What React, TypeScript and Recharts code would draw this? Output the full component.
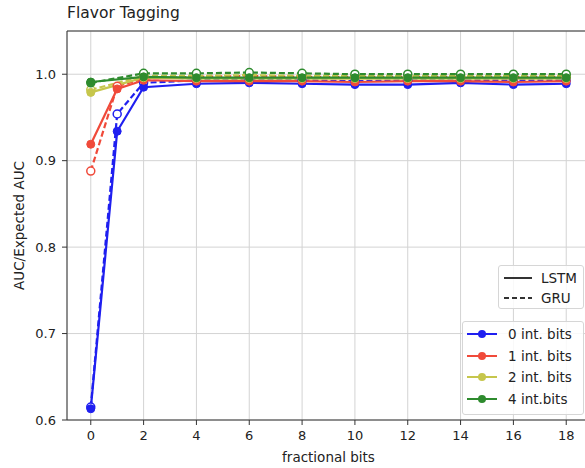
import React from 'react';
import { LineChart, Line, XAxis, YAxis, CartesianGrid, ReferenceLine } from 'recharts';

const fracBits = [0, 1, 2, 4, 6, 8, 10, 12, 14, 16, 18];
const xTicks = [0, 2, 4, 6, 8, 10, 12, 14, 16, 18];
const yTicks = [0.6, 0.7, 0.8, 0.9, 1.0];

// LSTM (solid, filled markers)
const lstm0 = [0.613, 0.934, 0.985, 0.989, 0.990, 0.989, 0.988, 0.988, 0.990, 0.988, 0.989];
const lstm1 = [0.919, 0.983, 0.993, 0.992, 0.992, 0.992, 0.991, 0.992, 0.992, 0.991, 0.992];
const lstm2 = [0.979, null, 0.996, 0.995, 0.995, 0.995, 0.995, 0.995, 0.995, 0.995, 0.995];
const lstm4 = [0.991, null, 0.997, 0.996, 0.996, 0.996, 0.996, 0.996, 0.996, 0.996, 0.996];

// GRU (dashed, hollow markers)
const gru0 = [0.615, 0.954, 0.990, 0.993, 0.994, 0.993, 0.992, 0.993, 0.993, 0.993, 0.993];
const gru1 = [0.888, 0.986, 0.995, 0.997, 0.998, 0.997, 0.997, 0.997, 0.997, 0.997, 0.997];
const gru2 = [0.982, null, 0.998, 0.998, 0.999, 0.998, 0.998, 0.998, 0.998, 0.998, 0.998];
const gru4 = [0.990, null, 1.001, 1.001, 1.002, 1.001, 1.0, 1.0, 1.0, 1.0, 1.0];

const seriesNames = ['0 int. bits', '1 int. bits', '2 int. bits', '4 int.bits'];
const colors = ['#1f1ff0', '#f04a3a', '#c6c64c', '#2e8b2e'];

const data = fracBits.map((x, i) => ({
  x,
  lstm0: lstm0[i], lstm1: lstm1[i], lstm2: lstm2[i], lstm4: lstm4[i],
  gru0: gru0[i], gru1: gru1[i], gru2: gru2[i], gru4: gru4[i],
}));

const lstmKeys = ['lstm0', 'lstm1', 'lstm2', 'lstm4'];
const gruKeys = ['gru0', 'gru1', 'gru2', 'gru4'];

const FONT = '"DejaVu Sans", sans-serif';
const TEXT = '#222';

const YLabel = (props: any) => {
  const { viewBox } = props;
  const cx = 19;
  const cy = viewBox.y + viewBox.height / 2;
  return (
    <text x={cx} y={cy} transform={`rotate(-90 ${cx} ${cy})`} textAnchor="middle"
      dominantBaseline="central" fontSize={13.5} fill={TEXT} fontFamily={FONT}>
      AUC/Expected AUC
    </text>
  );
};

const legendBox: React.CSSProperties = {
  position: 'absolute',
  background: 'rgba(255,255,255,0.85)',
  border: '1px solid #d6d6d6',
  borderRadius: 3,
  fontFamily: FONT,
  fontSize: 13.5,
  color: TEXT,
};

export default function App() {
  return (
    <div style={{ position: 'absolute', left: 0, top: 0, width: 585, height: 468, overflow: 'hidden', background: '#fff' }}>
      <div style={{ position: 'absolute', left: 67, top: 4, fontFamily: FONT, fontSize: 15.5, color: TEXT }}>
        Flavor Tagging
      </div>
      <LineChart width={600} height={468} data={data} margin={{ top: 31, right: 10, bottom: 0, left: 17 }}>
        <CartesianGrid stroke="#d3d3d3" strokeWidth={1} />
        <XAxis
          dataKey="x" type="number" domain={[-0.9, 18.9]} ticks={xTicks} allowDataOverflow
          height={48} tickSize={5} tickMargin={6}
          stroke="#333" tick={{ fill: TEXT, fontSize: 13, fontFamily: FONT }}
          label={{ value: 'fractional bits', position: 'insideBottom', offset: 6, fill: TEXT, fontSize: 13.5, fontFamily: FONT }}
        />
        <YAxis
          type="number" domain={[0.6, 1.05]} ticks={yTicks} allowDataOverflow width={50}
          tickSize={5} tickMargin={6} stroke="#333"
          tickFormatter={(v: number) => v.toFixed(1)}
          tick={{ fill: TEXT, fontSize: 13, fontFamily: FONT }}
          label={<YLabel />}
        />
        <ReferenceLine y={1.05} stroke="#333" />
        {gruKeys.map((k, i) => (
          <Line key={k} dataKey={k} stroke={colors[i]} strokeWidth={2.2} strokeDasharray="6 3"
            connectNulls isAnimationActive={false} activeDot={false}
            dot={{ r: 4, fill: '#fff', stroke: colors[i], strokeWidth: 1.5, strokeDasharray: '' }} />
        ))}
        {lstmKeys.map((k, i) => (
          <Line key={k} dataKey={k} stroke={colors[i]} strokeWidth={2.2}
            connectNulls isAnimationActive={false} activeDot={false}
            dot={{ r: 4, fill: colors[i], stroke: colors[i], strokeWidth: 1 }} />
        ))}
      </LineChart>

      {/* LSTM / GRU legend */}
      <div style={{ ...legendBox, left: 498, top: 265, width: 84, height: 42 }}>
        {['LSTM', 'GRU'].map((name, i) => (
          <div key={name} style={{ position: 'absolute', left: 5, top: 3 + i * 20, height: 18, display: 'flex', alignItems: 'center' }}>
            <svg width={30} height={10}>
              <line x1={0} y1={5} x2={28} y2={5} stroke="#333" strokeWidth={2} strokeDasharray={i === 1 ? '5 3' : undefined} />
            </svg>
            <span style={{ marginLeft: 7 }}>{name}</span>
          </div>
        ))}
      </div>

      {/* int. bits legend */}
      <div style={{ ...legendBox, left: 462, top: 321, width: 120, height: 92 }}>
        {seriesNames.map((name, i) => (
          <div key={name} style={{ position: 'absolute', left: 3, top: 2 + i * 21.7, height: 20, display: 'flex', alignItems: 'center' }}>
            <svg width={32} height={12}>
              <line x1={1} y1={6} x2={31} y2={6} stroke={colors[i]} strokeWidth={2} />
              <circle cx={16} cy={6} r={4} fill={colors[i]} />
            </svg>
            <span style={{ marginLeft: 10 }}>{name}</span>
          </div>
        ))}
      </div>
    </div>
  );
}
